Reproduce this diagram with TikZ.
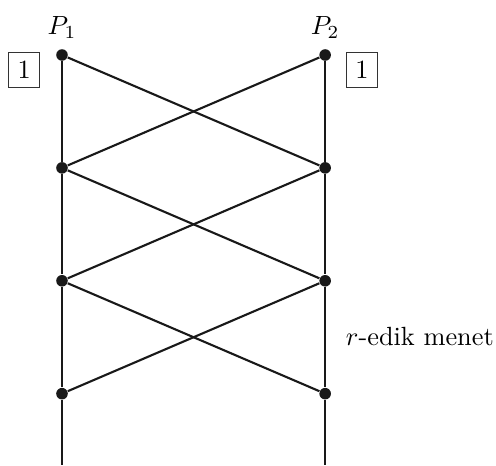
\documentclass[tikz,border=0pt]{standalone}
\usepackage{tikz}
\usetikzlibrary{positioning}

\begin{document}
\begin{tikzpicture}[
    x=0.38pt, y=-0.38pt,
    node distance=42.9pt, on grid,
    dot/.style={circle, fill=black!90, inner sep=0pt, minimum size=4.4pt},
    roundbox/.style={rectangle, draw=black!80, line width=0.4pt, inner sep=3.3pt},
    edge/.style={line width=0.8pt, black!90}
]
    \useasboundingbox (0,0) rectangle (496,466);

    % left party
    \node[dot] (l1) at (62,55) {};
    \node[dot, below=of l1] (l2) {};
    \node[dot, below=of l2] (l3) {};
    \node[dot, below=of l3] (l4) {};
    \coordinate[below=27pt of l4] (lend);

    % right party
    \node[dot, right=100pt of l1] (r1) {};
    \node[dot, below=of r1] (r2) {};
    \node[dot, below=of r2] (r3) {};
    \node[dot, below=of r3] (r4) {};
    \coordinate[below=27pt of r4] (rend);

    \node[above=10.6pt of l1] (p1) {$P_1$};
    \node[above=10.6pt of r1] (p2) {$P_2$};
    \node[roundbox, below left=5.7pt and 14.4pt of l1] (in1) {1};
    \node[roundbox, below right=5.7pt and 14pt of r1] (in2) {1};
    \node[below right=21pt and 36pt of r3] (round) {$r$-edik menet};

    \draw[edge] (l1) -- (l2) -- (l3) -- (l4) -- (lend);
    \draw[edge] (r1) -- (r2) -- (r3) -- (r4) -- (rend);
    \draw[edge] (l1) -- (r2);
    \draw[edge] (r1) -- (l2);
    \draw[edge] (l2) -- (r3);
    \draw[edge] (r2) -- (l3);
    \draw[edge] (l3) -- (r4);
    \draw[edge] (r3) -- (l4);

\end{tikzpicture}
\end{document}
